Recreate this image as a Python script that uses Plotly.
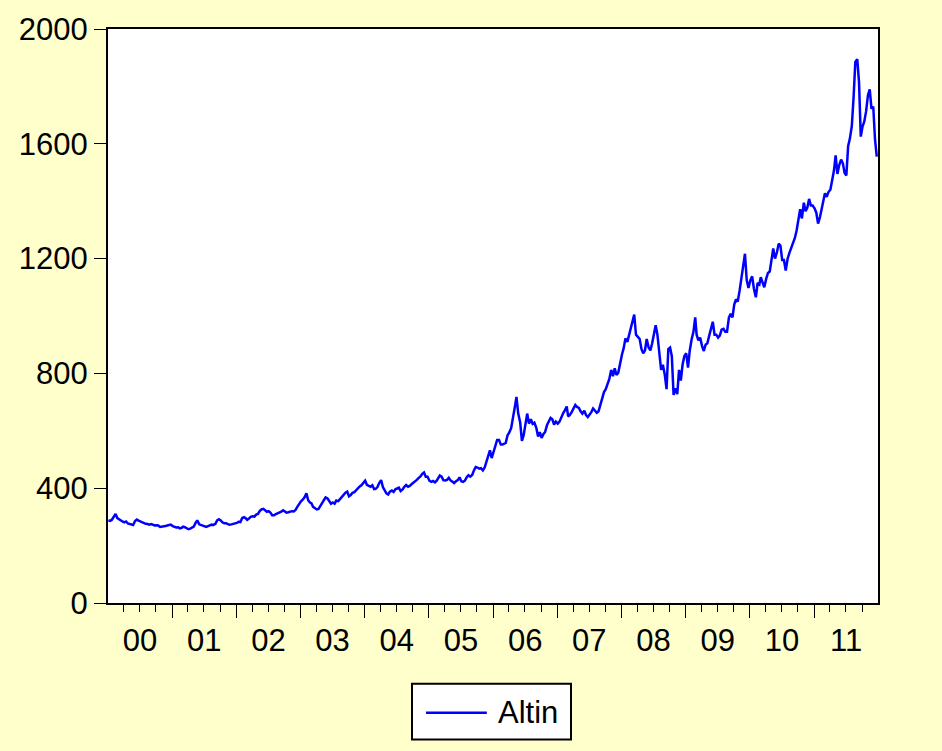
import pandas as pd
import plotly.graph_objects as go

# Gold price (USD/oz), three readings per month: around the 4th, 14th and 24th
gold_2000 = [288, 286, 290, 303, 310, 296, 292, 287, 284, 281, 284, 277,
             276, 274, 272, 286, 291, 287, 284, 282, 279, 276, 275, 273,
             275, 272, 270, 271, 270, 265, 266, 265, 268, 270, 271, 273]
gold_2001 = [268, 264, 263, 264, 260, 262, 266, 264, 260, 257, 259, 262,
             266, 279, 288, 274, 272, 268, 267, 265, 268, 270, 273, 272,
             276, 288, 292, 288, 281, 278, 278, 275, 273, 274, 275, 278]
gold_2002 = [279, 283, 282, 296, 299, 295, 290, 294, 300, 302, 301, 308,
             310, 320, 326, 328, 322, 318, 320, 315, 306, 306, 310, 312,
             316, 318, 323, 318, 315, 316, 318, 320, 319, 324, 335, 346]
gold_2003 = [354, 360, 368, 382, 358, 350, 348, 335, 330, 326, 328, 336,
             348, 358, 368, 364, 356, 346, 350, 346, 357, 355, 362, 370,
             380, 384, 388, 372, 376, 384, 386, 394, 398, 406, 410, 416]
gold_2004 = [426, 412, 408, 405, 410, 397, 398, 404, 418, 428, 404, 390,
             382, 378, 388, 392, 387, 396, 398, 402, 390, 396, 405, 411,
             405, 408, 414, 418, 422, 429, 436, 441, 450, 455, 440, 440]
gold_2005 = [426, 422, 425, 420, 426, 436, 444, 440, 428, 427, 429, 436,
             427, 423, 418, 424, 428, 438, 424, 422, 426, 438, 445, 440,
             446, 462, 474, 472, 468, 470, 462, 472, 494, 512, 532, 505]
gold_2006 = [530, 555, 568, 568, 552, 552, 555, 558, 584, 595, 610, 640,
             680, 718, 660, 630, 565, 585, 632, 660, 625, 640, 624, 628,
             610, 580, 595, 575, 588, 596, 620, 630, 645, 640, 622, 632]
gold_2007 = [625, 632, 650, 662, 672, 685, 650, 655, 665, 680, 690, 683,
             680, 668, 660, 670, 655, 648, 655, 665, 678, 670, 663, 668,
             690, 715, 735, 745, 762, 780, 812, 790, 818, 795, 802, 838]
gold_2008 = [865, 888, 922, 910, 935, 952, 980, 1005, 935, 925, 920, 885,
             870, 880, 920, 890, 880, 905, 935, 968, 935, 880, 812, 830,
             795, 745, 885, 890, 860, 725, 748, 728, 812, 775, 830, 860]
gold_2009 = [870, 820, 880, 920, 945, 995, 935, 915, 925, 895, 878, 900,
             905, 930, 955, 980, 935, 935, 925, 932, 952, 955, 945, 945,
             995, 1008, 995, 1040, 1058, 1050, 1090, 1128, 1170, 1217, 1125, 1098]
gold_2010 = [1125, 1138, 1095, 1065, 1115, 1110, 1135, 1120, 1100, 1130, 1150, 1155,
             1195, 1235, 1200, 1222, 1252, 1245, 1195, 1195, 1158, 1200, 1220, 1238,
             1255, 1272, 1298, 1332, 1372, 1340, 1395, 1365, 1378, 1408, 1385, 1385]
gold_2011 = [1375, 1360, 1322, 1345, 1372, 1410, 1428, 1415, 1432, 1440, 1478, 1505,
             1560, 1495, 1525, 1545, 1532, 1498, 1490, 1592, 1618, 1662, 1762, 1885,
             1895, 1815, 1625, 1660, 1678, 1712, 1770, 1790, 1722, 1730, 1615, 1555]

yearly_series = {
    2000: gold_2000, 2001: gold_2001, 2002: gold_2002, 2003: gold_2003,
    2004: gold_2004, 2005: gold_2005, 2006: gold_2006, 2007: gold_2007,
    2008: gold_2008, 2009: gold_2009, 2010: gold_2010, 2011: gold_2011,
}
reading_days = [4, 14, 24]

y_ticks = [0, 400, 800, 1200, 1600, 2000]
series_name = "Altin"
line_color = "#0000FF"

dates, prices = [], []
for year, values in yearly_series.items():
    i = 0
    for month in range(1, 13):
        for day in reading_days:
            dates.append(pd.Timestamp(year=year, month=month, day=day))
            prices.append(values[i])
            i += 1

font_family = "Liberation Sans, Arial, sans-serif"

fig = go.Figure()
fig.add_trace(go.Scatter(
    x=dates, y=prices, mode="lines", name=series_name,
    line=dict(color=line_color, width=2.5),
    showlegend=False,
))

# Boxed key below the plot area (paper coordinates)
fig.add_shape(type="rect", xref="paper", yref="paper",
              x0=0.3948, x1=0.6013, y0=-0.2378, y1=-0.1406,
              line=dict(color="black", width=2), fillcolor="white")
fig.add_shape(type="line", xref="paper", yref="paper",
              x0=0.413, x1=0.492, y0=-0.191, y1=-0.191,
              line=dict(color=line_color, width=2.5))
fig.add_annotation(xref="paper", yref="paper", x=0.504, y=-0.191,
                   xanchor="left", yanchor="middle", showarrow=False,
                   text=series_name,
                   font=dict(size=31, family=font_family, color="black"))

fig.update_layout(
    width=942, height=751,
    margin=dict(l=108, r=64, t=27, b=148),
    paper_bgcolor="#FFFFCC",
    plot_bgcolor="white",
    font=dict(family=font_family, size=31, color="black"),
    showlegend=False,
    xaxis=dict(
        type="date",
        range=["2000-01-02", "2011-12-31"],
        tick0="2000-01-01", dtick="M12",
        tickformat="%y", ticklabelmode="period",
        ticks="outside", ticklen=13, tickwidth=1, tickcolor="black",
        ticklabelstandoff=-4,
        minor=dict(dtick="M3", tick0="2000-01-01", ticks="outside",
                   ticklen=7, tickwidth=1, tickcolor="black"),
        showline=True, mirror=True, linecolor="black", linewidth=2,
        showgrid=False, zeroline=False,
        tickfont=dict(size=31, family=font_family, color="black"),
    ),
    yaxis=dict(
        range=[0, 2000],
        tickvals=y_ticks,
        ticks="outside", ticklen=12, tickwidth=1, tickcolor="black",
        ticklabelstandoff=0,
        showline=True, mirror=True, linecolor="black", linewidth=2,
        showgrid=False, zeroline=False,
        tickfont=dict(size=31, family=font_family, color="black"),
    ),
)

fig.write_html("out.html", config={"displayModeBar": False})
